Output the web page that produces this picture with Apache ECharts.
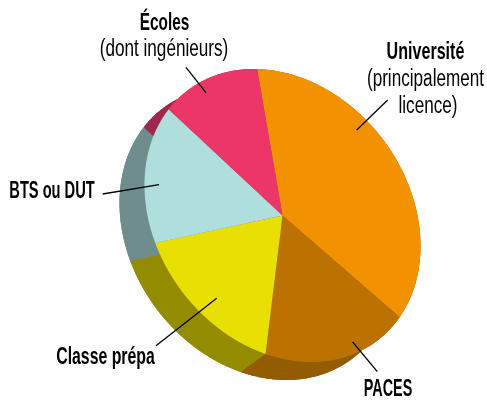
<!DOCTYPE html>
<html>
<head>
<meta charset="utf-8">
<script src="https://cdn.jsdelivr.net/npm/echarts@6/dist/echarts.min.js"></script>
<style>
    html, body { margin: 0; padding: 0; background: #fff; }
    #pie { width: 487px; height: 401px; }
</style>
</head>
<body>
<div id="pie"></div>
<script>
    // shares, clockwise from the top
    let categories = ['Université', 'PACES', 'Classe prépa', 'BTS ou DUT', 'Écoles'];
    let shares = [36.8, 18.1, 16.7, 15.9, 12.5];
    let topColors = ['#f39200', '#bc7200', '#e8e000', '#aedfdc', '#ec3668'];
    let sideColors = ['#9c5e00', '#945c00', '#948c00', '#6f8d8c', '#a0284c'];

    // tilted disc: ellipse axes in px, rotation of the long axis, extrusion
    let cx = 282.5, cy = 215.5, ra = 157, rb = 126;
    let tilt = 53 * Math.PI / 180;
    let startAngle = 212.6;
    let depth = [-25, 18];

    function project(deg, dx, dy) {
        let t = deg * Math.PI / 180;
        let u = ra * Math.cos(t), v = rb * Math.sin(t);
        return [
            cx + u * Math.cos(tilt) - v * Math.sin(tilt) + dx,
            cy + u * Math.sin(tilt) + v * Math.cos(tilt) + dy
        ];
    }

    let total = shares.reduce((a, b) => a + b, 0);

    function sliceRange(i) {
        let before = 0;
        for (let k = 0; k < i; k++) before += shares[k];
        return [startAngle + before / total * 360, startAngle + (before + shares[i]) / total * 360];
    }

    function arc(i, dx, dy) {
        let r = sliceRange(i), pts = [];
        for (let d = r[0]; d < r[1]; d += 0.5) pts.push(project(d, dx, dy));
        pts.push(project(r[1], dx, dy));
        return pts;
    }

    function renderSide(params, api) {
        let i = params.dataIndex;
        let rim = arc(i, 0, 0), low = arc(i, depth[0], depth[1]);
        return {
            type: 'group',
            children: [
                {
                    type: 'polygon',
                    shape: {points: [[cx + depth[0], cy + depth[1]]].concat(low)},
                    style: {fill: sideColors[i]}
                },
                {
                    type: 'polygon',
                    shape: {points: rim.concat(low.slice().reverse())},
                    style: {fill: sideColors[i]}
                }
            ]
        };
    }

    function renderTop(params, api) {
        let i = params.dataIndex;
        return {
            type: 'polygon',
            shape: {points: [[cx, cy]].concat(arc(i, 0, 0))},
            style: {fill: topColors[i]}
        };
    }

    // no condensed face installed, so the text is squeezed horizontally
    function label(text, x, y, bold, squeeze) {
        return {
            type: 'text',
            z: 10,
            x: x,
            y: y,
            scaleX: squeeze,
            style: {
                text: text,
                align: 'center',
                verticalAlign: 'middle',
                fill: '#000',
                fontFamily: '"Liberation Sans", sans-serif',
                fontWeight: bold ? 'bold' : 'normal',
                fontSize: bold ? 24 : 23
            }
        };
    }

    function leader(x1, y1, x2, y2) {
        return {
            type: 'line',
            z: 10,
            shape: {x1: x1, y1: y1, x2: x2, y2: y2},
            style: {stroke: '#000', lineWidth: 1.3}
        };
    }

    let myChart = echarts.init(document.getElementById('pie'));
    let option = {
        animation: false,
        backgroundColor: '#fff',
        series: [
            {type: 'custom', coordinateSystem: 'none', renderItem: renderSide, data: shares, silent: true, z: 1},
            {type: 'custom', coordinateSystem: 'none', renderItem: renderTop, data: shares, silent: true, z: 2}
        ],
        graphic: {
            elements: [
                leader(186, 67.3, 206, 92.7),
                leader(387.7, 100, 356.7, 130),
                leader(102.7, 194, 159, 184.7),
                leader(156, 345.7, 216.7, 298.3),
                leader(377.3, 371.7, 352.7, 342),
                label(categories[4], 164.5, 23, true, 0.64),
                label('(dont ingénieurs)', 164, 50, false, 0.745),
                label(categories[0], 425.5, 52, true, 0.67),
                label('(principalement', 425.5, 80, false, 0.745),
                label('licence)', 428, 107, false, 0.745),
                label(categories[3], 52, 191, true, 0.61),
                label(categories[2], 105.5, 357.5, true, 0.66),
                label(categories[1], 388, 389.5, true, 0.6)
            ]
        }
    };
    myChart.setOption(option);
</script>
</body>
</html>
